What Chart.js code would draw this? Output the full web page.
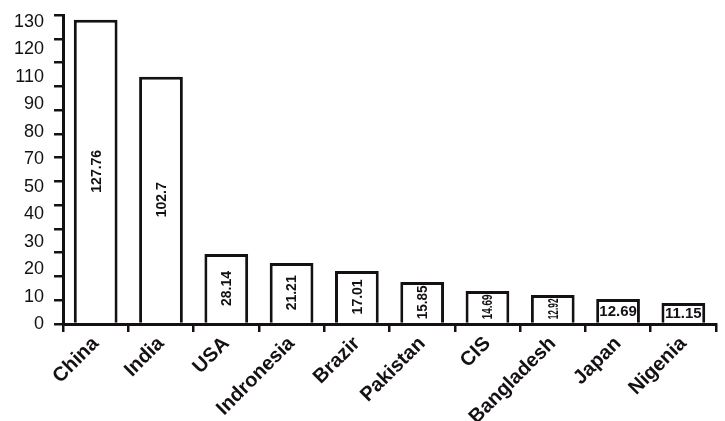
<!DOCTYPE html>
<html>
<head>
<meta charset="utf-8">
<script src="https://cdn.jsdelivr.net/npm/chart.js@4.4.1/dist/chart.umd.min.js"></script>
<style>
  body { margin: 0; background: #fff; }
  #wrap { width: 725px; height: 421px; }
</style>
</head>
<body>
<div id="wrap"><canvas id="myBarChart"></canvas></div>
<script>
// data
const countries = ['China', 'India', 'USA', 'Indronesia', 'Brazir', 'Pakistan', 'CIS', 'Bangladesh', 'Japan', 'Nigenia'];
const barHeights = [128, 104, 29.4, 25.7, 22.3, 17.7, 13.9, 12.2, 10.5, 8.8];
const valueLabels = ['127.76', '102.7', '28.14', '21.21', '17.01', '15.85', '14.69', '12.92', '12.69', '11.15'];
const yTickLabels = ['0', '10', '20', '30', '40', '50', '70', '80', '90', '110', '120', '130'];

const ink = '#141014';
const fontFam = '"Liberation Sans", Arial, sans-serif';

/* numbers written inside the bars, squeezed when the bar is short */
const barText = {
    id: 'barText',
    afterDatasetsDraw(chart) {
        const ctx = chart.ctx;
        const meta = chart.getDatasetMeta(0);
        meta.data.forEach(function(bar, i) {
            const cy = (bar.y + bar.base) / 2;
            const upright = i >= 8; // Japan, Nigenia written flat
            ctx.save();
            ctx.fillStyle = ink;
            ctx.textAlign = 'center';
            ctx.textBaseline = 'middle';
            ctx.font = 'bold ' + (upright ? 15 : 14) + 'px ' + fontFam;
            ctx.translate(bar.x, cy);
            const w = ctx.measureText(valueLabels[i]).width;
            const avail = upright ? bar.width - 6 : Math.abs(bar.base - bar.y) - 7;
            if (!upright) ctx.rotate(-Math.PI / 2);
            if (w > avail) ctx.scale(avail / w, 1);
            ctx.fillText(valueLabels[i], 0, 1);
            ctx.restore();
        });
    }
};

const ctx = document.getElementById('myBarChart').getContext('2d');

const myChart = new Chart(ctx, {
    type: 'bar',
    data: {
        labels: countries,
        datasets: [{
            data: barHeights,
            backgroundColor: '#ffffff',
            borderColor: ink,
            borderWidth: 3,
            barPercentage: 0.67,
            categoryPercentage: 1
        }]
    },
    options: {
        responsive: true,
        maintainAspectRatio: false,
        animation: false,
        layout: { padding: { top: 15, right: 9, bottom: 0, left: 4 } },
        plugins: {
            legend: { display: false },
            tooltip: { enabled: false }
        },
        scales: {
            x: {
                afterFit: function(axis) { axis.height = 97; },
                grid: { offset: true, drawOnChartArea: false, tickLength: 8, color: ink, lineWidth: 2.5 },
                border: { color: ink, width: 3 },
                ticks: {
                    minRotation: 45, maxRotation: 45, padding: 0,
                    color: ink,
                    font: { family: fontFam, size: 20, weight: 'bold' }
                }
            },
            y: {
                min: 0, max: 130,
                weight: 0,
                ticks: { stepSize: 10, display: false },
                grid: { drawOnChartArea: false, tickLength: 9, color: ink, lineWidth: 2.5 },
                border: { color: ink, width: 3 }
            },
            // hand written labels, not spaced like the tick marks
            yl: {
                position: 'left',
                weight: 1,
                min: 0, max: 11.25,
                afterBuildTicks: function(axis) {
                    axis.ticks = yTickLabels.map(function(s, i) { return { value: i }; });
                },
                afterFit: function(axis) { axis.paddingTop = 0; axis.paddingBottom = 0; },
                ticks: {
                    padding: 10, color: ink,
                    font: { family: fontFam, size: 18 },
                    callback: function(v) { return yTickLabels[v]; }
                },
                grid: { drawOnChartArea: false, drawTicks: false },
                border: { display: false }
            }
        }
    },
    plugins: [barText]
});
</script>
</body>
</html>
